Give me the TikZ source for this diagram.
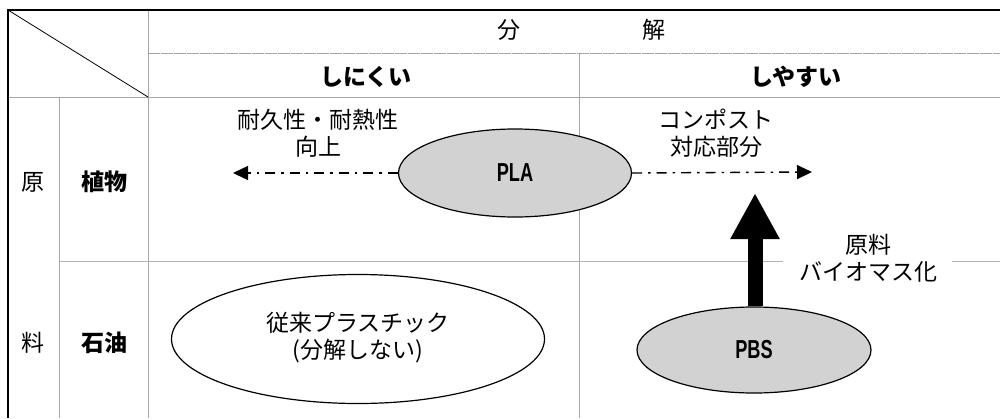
\documentclass[tikz,border=0pt]{standalone}
\usepackage{fontspec}
\setmainfont{Noto Sans CJK JP}
\newfontfamily\latinbold[FakeStretch=0.7]{Liberation Sans}
\usetikzlibrary{shapes.geometric,arrows.meta}
\begin{document}
\begin{tikzpicture}[x=1pt,y=-1pt,
  frameline/.style={line width=2pt,black},
  gridline/.style={line width=0.8pt,gray!70},
  gridgray/.style={line width=0.9pt,gray!60},
  lbl/.style={font=\fontsize{23}{27}\selectfont,inner sep=0pt,align=center},
  hdr/.style={font=\fontsize{23}{26}\selectfont\bfseries,inner sep=0pt},
  oval/.style={ellipse,draw,line width=1.2pt,inner sep=0pt},
  shaded/.style={oval,fill=gray!35},
  eng/.style={font=\latinbold\bfseries\fontsize{26}{28}\selectfont},
  dashdot/.style={line width=1.4pt,dash pattern=on 10pt off 6pt on 2.5pt off 6pt,-{Triangle[length=15pt,width=14pt]}},
  bigarrow/.style={line width=15pt,-{Triangle[length=46pt,width=46pt]}}]
\useasboundingbox (0,0) rectangle (1000,418);
\fill[white] (0,0) rectangle (1000,418);
% grid
\draw[gridline] (8,97) -- (148,97);
\draw[gridline] (148,10) -- (148,418);
\draw[gridline,dashed,dash pattern=on 12pt off 1pt] (148,53) -- (1000,53);
\draw[gridline] (148,97) -- (1000,97);
\draw[gridline] (59,97) -- (59,418);
\draw[gridline] (579,53) -- (579,418);
\draw[gridgray] (59,261) -- (783,261);
\draw[gridgray] (952,261) -- (1000,261);
\draw[line width=0.8pt] (8,10) -- (148,97);
\draw[frameline] (8,10) -- (1000,10);
\draw[frameline] (8,9) -- (8,418);
% headers
\node[lbl] (bun) at (509,30) {分};
\node[lbl] (kai) at (654,30) {解};
\node[hdr] (shinikui) at (366,77) {しにくい};
\node[hdr] (shiyasui) at (796,77) {しやすい};
\node[lbl] (gen) at (33,182) {原};
\node[lbl] (ryo) at (33,343) {料};
\node[hdr] (shokubutsu) at (104,182) {植物};
\node[hdr] (sekiyu) at (104,343) {石油};
% ellipses
\node[shaded,minimum width=233pt,minimum height=88pt] (pla) at (515,173) {};
\node[eng] (platxt) at (515,173) {PLA};
\node[shaded,minimum width=234pt,minimum height=86pt] (pbs) at (754,350) {};
\node[eng] (pbstxt) at (754,350) {PBS};
\node[oval,minimum width=373pt,minimum height=129pt] (conv) at (358,339) {};
\node[lbl] (convtxt) at (358,338) {従来プラスチック\\(分解しない)};
% labels
\node[lbl] (taikyu) at (318,133) {耐久性・耐熱性\\向上};
\node[lbl] (compost) at (716,133) {コンポスト\\対応部分};
\node[lbl] (biomass) at (868,258) {原料\\バイオマス化};
% arrows
\coordinate (lefttip) at (233,173);
\coordinate (righttip) at (812,172);
\coordinate (bigtip) at (755,193);
\draw[dashdot] (pla.west) -- (lefttip);
\draw[dashdot] (pla.east) -- (righttip);
\draw[bigarrow] (pbs.north -| bigtip) -- (bigtip);
\end{tikzpicture}
\end{document}
